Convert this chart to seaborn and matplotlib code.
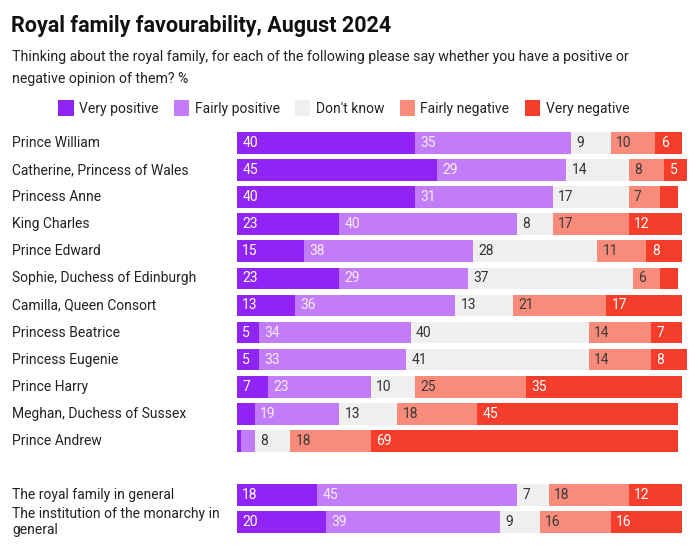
import pandas as pd
import matplotlib
matplotlib.use("Agg")
import matplotlib.pyplot as plt
import seaborn as sns
from matplotlib.transforms import blended_transform_factory
from matplotlib.patches import Patch

# survey rows (names in display order) and the share for each answer, %
names = ["Prince William", "Catherine, Princess of Wales", "Princess Anne", "King Charles",
         "Prince Edward", "Sophie, Duchess of Edinburgh", "Camilla, Queen Consort",
         "Princess Beatrice", "Princess Eugenie", "Prince Harry", "Meghan, Duchess of Sussex",
         "Prince Andrew", "The royal family in general",
         "The institution of the monarchy in\ngeneral"]
very_pos = [40, 45, 40, 23, 15, 23, 13, 5, 5, 7, 4, 1, 18, 20]
fairly_pos = [35, 29, 31, 40, 38, 29, 36, 34, 33, 23, 19, 3, 45, 39]
dont_know = [9, 14, 17, 8, 28, 37, 13, 40, 41, 10, 13, 8, 7, 9]
fairly_neg = [10, 8, 7, 17, 11, 6, 21, 14, 14, 25, 18, 18, 18, 16]
very_neg = [6, 5, 4, 12, 8, 4, 17, 7, 8, 35, 45, 69, 12, 16]

answers = ["Very positive", "Fairly positive", "Don't know", "Fairly negative", "Very negative"]
colors = ["#9024f4", "#c27cf7", "#efefef", "#f98b7b", "#f53d2b"]
label_colors = ["white", "#f6eefe", "#333333", "#3a3a3a", "white"]

df = pd.DataFrame({"name": names, "Very positive": very_pos, "Fairly positive": fairly_pos,
                   "Don't know": dont_know, "Fairly negative": fairly_neg,
                   "Very negative": very_neg})
cum = df[answers].cumsum(axis=1)
cum["name"] = df["name"]

# blank slot between the people and the "in general" rows
order = names[:12] + [" "] + names[12:]

sns.set_style("white")
plt.rcParams["font.family"] = ["Roboto", "DejaVu Sans"]

fig = plt.figure(figsize=(7, 5.55), dpi=100)
ax = fig.add_axes([237 / 700, 0.035, 449.5 / 700, 0.7317])

# stacked bars: draw the longest cumulative first, shorter ones on top
for ans, col in reversed(list(zip(answers, colors))):
    sns.barplot(data=cum, x=ans, y="name", order=order, color=col, saturation=1,
                width=0.8, orient="h", ax=ax, errorbar=None, linewidth=0)

ax.set_xlim(0, 101)
ax.set_xlabel("")
ax.set_ylabel("")
ax.set_xticks([])
ax.set_yticks([])
sns.despine(ax=ax, left=True, bottom=True)

# value labels at the left of each segment
for i, row in df.iterrows():
    ypos = order.index(row["name"])
    start = 0
    for ans, tc in zip(answers, label_colors):
        v = row[ans]
        if v >= 5:
            ax.text(start + 1.2, ypos, str(v), va="center", ha="left",
                    fontsize=10, color=tc)
        start += v

# row names on the left
trans = blended_transform_factory(fig.transFigure, ax.transData)
for n in names:
    ax.text(12 / 700, order.index(n), n, transform=trans, va="center", ha="left",
            fontsize=10, color="#222222", linespacing=1.25)

fig.text(11 / 700, 1 - 15 / 555, "Royal family favourability, August 2024",
         fontsize=15.5, fontweight="bold", va="top", ha="left", color="#111111")
fig.text(12 / 700, 1 - 50 / 555,
         "Thinking about the royal family, for each of the following please say whether you have a positive or\nnegative opinion of them? %",
         fontsize=10.2, va="top", ha="left", color="#222222", linespacing=1.75)

handles = [Patch(facecolor=c, edgecolor="none") for c in colors]
fig.legend(handles, answers, loc="center", bbox_to_anchor=(0.491, 1 - 108 / 555), ncol=5,
           frameon=False, handlelength=1.1, handleheight=1.3, handletextpad=0.4,
           columnspacing=1.1, fontsize=10, labelcolor="#222222")

fig.savefig("out.png", dpi=100)
